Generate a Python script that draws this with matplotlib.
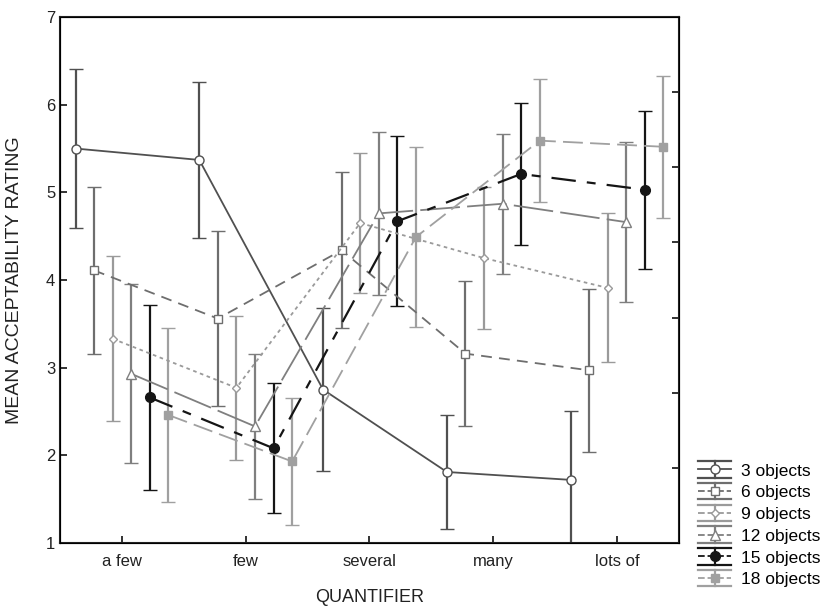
import matplotlib.pyplot as plt
import numpy as np
from matplotlib.container import ErrorbarContainer
from matplotlib.legend_handler import HandlerBase
from matplotlib.lines import Line2D

plt.rcParams['font.family'] = ['Liberation Sans', 'DejaVu Sans']

quantifiers = ["a few", "few", "several", "many", "lots of"]
series_names = ["3 objects", "6 objects", "9 objects", "12 objects",
                "15 objects", "18 objects"]

# mean rating per quantifier, and half-width of the error bar
obj3 = [5.50, 5.37, 2.75, 1.81, 1.72]
obj3_err = [0.91, 0.89, 0.93, 0.65, 0.79]
obj6 = [4.11, 3.56, 4.34, 3.16, 2.97]
obj6_err = [0.95, 1.00, 0.89, 0.83, 0.93]
obj9 = [3.33, 2.77, 4.65, 4.25, 3.91]
obj9_err = [0.94, 0.82, 0.80, 0.81, 0.85]
obj12 = [2.93, 2.33, 4.76, 4.87, 4.66]
obj12_err = [1.02, 0.83, 0.93, 0.80, 0.91]
obj15 = [2.66, 2.08, 4.67, 5.21, 5.03]
obj15_err = [1.05, 0.74, 0.97, 0.81, 0.90]
obj18 = [2.46, 1.93, 4.49, 5.59, 5.52]
obj18_err = [0.99, 0.72, 1.03, 0.70, 0.81]

means = [obj3, obj6, obj9, obj12, obj15, obj18]
errs = [obj3_err, obj6_err, obj9_err, obj12_err, obj15_err, obj18_err]

styles = [
    dict(color='#505050', ls='-', marker='o', mfc='white', ms=6.5),
    dict(color='#6e6e6e', ls=(0, (6, 4)), marker='s', mfc='white', ms=6),
    dict(color='#9a9a9a', ls=(0, (2, 2)), marker='D', mfc='white', ms=4.5),
    dict(color='#7f7f7f', ls=(0, (22, 4)), marker='^', mfc='white', ms=6.5),
    dict(color='#151515', ls=(0, (11, 5, 4, 5)), marker='o', mfc='#151515', ms=7),
    dict(color='#a0a0a0', ls=(0, (11, 4)), marker='s', mfc='#a0a0a0', ms=6),
]


class WideCapHandler(HandlerBase):
    # legend key: line + marker, vertical bar, caps across the whole key
    def create_artists(self, legend, orig_handle, xdescent, ydescent,
                       width, height, fontsize, trans):
        data_line = orig_handle.lines[0]
        c = data_line.get_color()
        y = height / 2 - ydescent
        x0 = -xdescent
        x1 = x0 + width
        xc = (x0 + x1) / 2
        h = 0.68 * height
        main = Line2D([x0, x1], [y, y], color=c, lw=1.3,
                      ls=data_line.get_linestyle())
        bar = Line2D([xc, xc], [y - h, y + h], color=c, lw=1.6)
        top = Line2D([x0, x1], [y + h, y + h], color=c, lw=1.6)
        bot = Line2D([x0, x1], [y - h, y - h], color=c, lw=1.6)
        mark = Line2D([xc], [y], ls='none', marker=data_line.get_marker(),
                      ms=data_line.get_markersize(),
                      mfc=data_line.get_markerfacecolor(), mec=c)
        arts = [main, bar, top, bot, mark]
        for a in arts:
            a.set_transform(trans)
        return arts


fig = plt.figure(figsize=(8.28, 6.09), dpi=100)
ax = fig.add_axes([0.0725, 0.1084, 0.7475, 0.8636])

x = np.arange(len(quantifiers))
handles = []
for i, (m, e, st) in enumerate(zip(means, errs, styles)):
    xs = x + (i - 2.5) * 0.15
    lw = 1.6 if i == 4 else 1.3
    h = ax.errorbar(xs, m, yerr=e, color=st['color'], ecolor=st['color'],
                    ls=st['ls'], lw=lw, marker=st['marker'], ms=st['ms'],
                    mfc=st['mfc'], mec=st['color'], mew=1.0,
                    elinewidth=1.6, capsize=5, capthick=1.6,
                    label=series_names[i])
    handles.append(h)

ax.set_xlim(-0.5, 4.5)
ax.set_ylim(1, 7)
ax.set_xticks(x)
ax.set_xticklabels(quantifiers)
ax.set_yticks([1, 2, 3, 4, 5, 6, 7])
ax.tick_params(direction='in', length=5, width=1.3, labelsize=12,
               colors='#222222')
ax.tick_params(axis='x', pad=8)
for sp in ax.spines.values():
    sp.set_linewidth(1.5)
    sp.set_color('#222222')

ax2 = ax.twinx()
ax2.set_ylim(0, 7)
ax2.set_yticks([1, 2, 3, 4, 5, 6])
ax2.set_yticklabels([])
ax2.tick_params(direction='in', length=5, width=1.3, colors='#222222')

ax.set_ylabel("MEAN ACCEPTABILITY RATING", fontsize=14, color='#222222')
ax.set_xlabel("QUANTIFIER", fontsize=13, color='#222222')
ax.yaxis.set_label_coords(-0.060, 0.5)
ax.xaxis.set_label_coords(0.5, -0.088)

fig.legend(handles=handles, loc='lower left', bbox_to_anchor=(0.8245, 0.01),
           frameon=False, fontsize=12.5, handlelength=1.9, labelspacing=0.38,
           handletextpad=0.55,
           handler_map={ErrorbarContainer: WideCapHandler()})

plt.savefig("out.png", dpi=100)
